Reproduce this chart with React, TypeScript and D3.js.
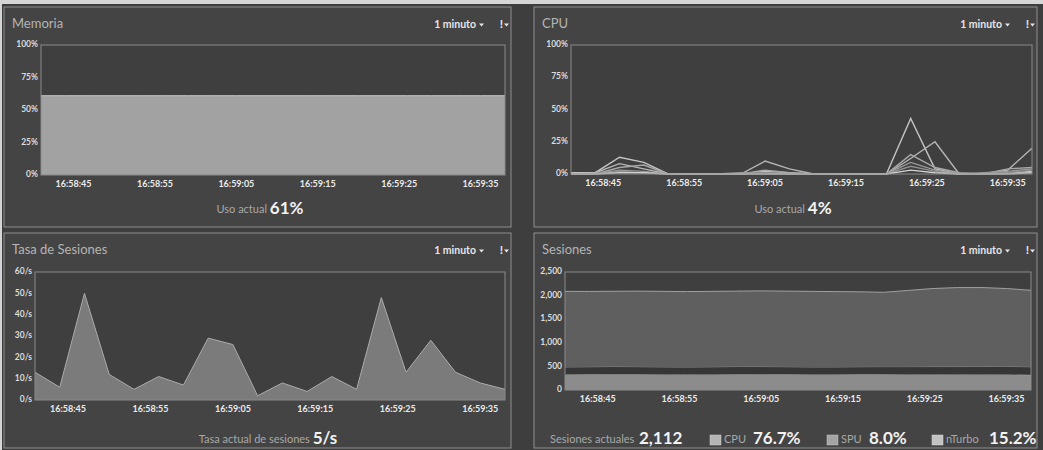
import React from "react";
import * as d3 from "d3";

// ---------- data ----------
const times = [
  "16:58:41", "16:58:44", "16:58:47", "16:58:50", "16:58:53",
  "16:58:56", "16:58:59", "16:59:02", "16:59:05", "16:59:08",
  "16:59:11", "16:59:14", "16:59:17", "16:59:20", "16:59:23",
  "16:59:26", "16:59:29", "16:59:32", "16:59:35", "16:59:38",
];
const xTickLabels = ["16:58:45", "16:58:55", "16:59:05", "16:59:15", "16:59:25", "16:59:35"];

const memoryUsage = [61, 61, 61, 61, 61, 61, 61, 61, 61, 61, 61, 61, 61, 61, 61, 61, 61, 61, 61, 61];

const cpuCore1 = [1, 1, 13, 9, 0, 0, 0, 0, 2, 1, 0, 0, 0, 0, 43, 4, 0, 0, 1, 2];
const cpuCore2 = [0, 1, 8, 4, 0, 0, 0, 0, 10, 4, 0, 0, 0, 0, 12, 25, 0, 0, 3, 20];
const cpuCore3 = [0, 0, 5, 7, 0, 0, 0, 0, 3, 1, 0, 0, 0, 0, 15, 5, 1, 0, 4, 5];
const cpuCore4 = [0, 0, 3, 2, 0, 0, 0, 1, 1, 0, 0, 0, 0, 0, 9, 3, 0, 1, 2, 4];
const cpuCore5 = [0, 0, 2, 1, 0, 0, 0, 0, 1, 0, 0, 0, 0, 0, 6, 2, 0, 0, 1, 3];
const cpuCore6 = [0, 0, 1, 1, 0, 0, 0, 0, 0, 0, 0, 0, 0, 0, 3, 1, 0, 0, 0, 1];
const cpuCores = [cpuCore1, cpuCore2, cpuCore3, cpuCore4, cpuCore5, cpuCore6];

const sessionRate = [13, 6, 50, 12, 5, 11, 7, 29, 26, 2, 8, 4, 11, 5, 48, 13, 28, 13, 8, 5];

const sessNTurbo = [330, 332, 335, 333, 330, 328, 331, 334, 336, 333, 330, 329, 332, 335, 330, 326, 328, 331, 329, 322];
const sessSPU = [158, 160, 162, 161, 159, 158, 160, 163, 161, 160, 158, 159, 161, 160, 165, 170, 168, 166, 170, 170];
const sessCPU = [1602, 1596, 1595, 1601, 1601, 1599, 1599, 1598, 1603, 1602, 1602, 1597, 1587, 1575, 1615, 1654, 1674, 1673, 1651, 1620];

const pctTicks = [0, 25, 50, 75, 100];
const rateTicks = [0, 10, 20, 30, 40, 50, 60];
const sessTicks = [0, 500, 1000, 1500, 2000, 2500];

// ---------- helpers ----------
const W = 1043;
const H = 450;
const FONT = "Lato, 'Open Sans', sans-serif";
const parse = d3.timeParse("%H:%M:%S");
const dates = times.map((t) => parse(t) as Date);
const xTicks = xTickLabels.map((t) => parse(t) as Date);
const fmtTime = d3.timeFormat("%H:%M:%S");

type Box = { x: number; y: number; w: number; h: number };
type Plot = { l: number; t: number; r: number; b: number };

function Dropdowns({ box }: { box: Box }) {
  const right = box.x + box.w;
  const cy = box.y + 18;
  return (
    <g fontFamily={FONT} fill="#e6e6e6" fontWeight={700}>
      <text x={right - 35} y={cy} fontSize={10.5} textAnchor="end" dominantBaseline="middle">
        1 minuto
      </text>
      <path d={`M${right - 32},${cy - 1.5} l5,0 l-2.5,3 z`} fill="#e6e6e6" />
      <text x={right - 8} y={cy} fontSize={12} textAnchor="end" dominantBaseline="middle">
        !
      </text>
      <path d={`M${right - 7},${cy - 1.5} l5,0 l-2.5,3 z`} fill="#e6e6e6" />
    </g>
  );
}

function Frame({
  box,
  plot,
  title,
  y,
  ticks,
  yFmt,
  x,
  children,
}: {
  box: Box;
  plot: Plot;
  title: string;
  y: d3.ScaleLinear<number, number>;
  ticks: number[];
  yFmt: (v: number) => string;
  x: d3.ScaleTime<number, number>;
  children?: React.ReactNode;
}) {
  return (
    <g>
      <rect x={box.x} y={box.y} width={box.w} height={box.h} fill="#444444" stroke="#8e8e8e" strokeWidth={1} />
      <text x={box.x + 8} y={box.y + 18} fontFamily={FONT} fontSize={13} fill="#b4b4b4" dominantBaseline="middle">
        {title}
      </text>
      <Dropdowns box={box} />
      <rect x={plot.l} y={plot.t} width={plot.r - plot.l} height={plot.b - plot.t} fill="#3f3f3f" />
      {children}
      <rect x={plot.l} y={plot.t} width={plot.r - plot.l} height={plot.b - plot.t} fill="none" stroke="#8a8a8a" strokeWidth={1} />
      {ticks.map((t) => (
        <text
          key={t}
          x={plot.l - 3}
          y={y(t)}
          textAnchor="end"
          dominantBaseline="middle"
          fontFamily={FONT}
          fontWeight={700}
          fontSize={8.5}
          fill="#dcdcdc"
        >
          {yFmt(t)}
        </text>
      ))}
      {xTicks.map((d) => (
        <text
          key={+d}
          x={x(d)}
          y={plot.b + 10}
          textAnchor="middle"
          dominantBaseline="middle"
          fontFamily={FONT}
          fontWeight={700}
          fontSize={9}
          fill="#ececec"
        >
          {fmtTime(d)}
        </text>
      ))}
    </g>
  );
}

function Footer({ cx, cy, label, value }: { cx: number; cy: number; label: string; value: string }) {
  return (
    <text x={cx} y={cy} textAnchor="middle" dominantBaseline="middle" fontFamily={FONT}>
      <tspan fontSize={11} fill="#a8a8a8">{label} </tspan>
      <tspan fontSize={17} fontWeight={700} fill="#f2f2f2">{value}</tspan>
    </text>
  );
}

export default function App() {
  const domain = d3.extent(dates) as [Date, Date];

  // Memory
  const memBox: Box = { x: 4, y: 7, w: 507, h: 220 };
  const memPlot: Plot = { l: 41, t: 45, r: 505, b: 175 };
  const memX = d3.scaleTime().domain(domain).range([memPlot.l, memPlot.r]);
  const memY = d3.scaleLinear().domain([0, 100]).range([memPlot.b, memPlot.t]);
  const memArea = d3
    .area<number>()
    .x((_, i) => memX(dates[i]))
    .y0(memY(0))
    .y1((v) => memY(v));
  const memLine = d3
    .line<number>()
    .x((_, i) => memX(dates[i]))
    .y((v) => memY(v));

  // CPU
  const cpuBox: Box = { x: 534, y: 7, w: 503, h: 220 };
  const cpuPlot: Plot = { l: 571, t: 45, r: 1032, b: 174 };
  const cpuX = d3.scaleTime().domain(domain).range([cpuPlot.l, cpuPlot.r]);
  const cpuY = d3.scaleLinear().domain([0, 100]).range([cpuPlot.b, cpuPlot.t]);
  const cpuLine = d3
    .line<number>()
    .x((_, i) => cpuX(dates[i]))
    .y((v) => cpuY(v));
  const cpuColors = ["#c4c4c4", "#b6b6b6", "#a8a8a8", "#9a9a9a", "#8e8e8e", "#d0d0d0"];

  // Session rate
  const rateBox: Box = { x: 4, y: 233, w: 507, h: 215 };
  const ratePlot: Plot = { l: 35, t: 272, r: 505, b: 400 };
  const rateX = d3.scaleTime().domain(domain).range([ratePlot.l, ratePlot.r]);
  const rateY = d3.scaleLinear().domain([0, 60]).range([ratePlot.b, ratePlot.t]);
  const rateArea = d3
    .area<number>()
    .x((_, i) => rateX(dates[i]))
    .y0(rateY(0))
    .y1((v) => rateY(v));
  const rateLine = d3
    .line<number>()
    .x((_, i) => rateX(dates[i]))
    .y((v) => rateY(v));

  // Sessions (stacked)
  const sessBox: Box = { x: 534, y: 233, w: 503, h: 215 };
  const sessPlot: Plot = { l: 565, t: 272, r: 1031, b: 390 };
  const sessX = d3.scaleTime().domain(domain).range([sessPlot.l, sessPlot.r]);
  const sessY = d3.scaleLinear().domain([0, 2500]).range([sessPlot.b, sessPlot.t]);
  const rows = dates.map((d, i) => ({ date: d, nturbo: sessNTurbo[i], spu: sessSPU[i], cpu: sessCPU[i] }));
  const stack = d3.stack<any>().keys(["nturbo", "spu", "cpu"]);
  const layers = stack(rows);
  const sessArea = d3
    .area<any>()
    .x((d) => sessX(d.data.date))
    .y0((d) => sessY(d[0]))
    .y1((d) => sessY(d[1]));
  const sessTop = d3
    .line<any>()
    .x((d) => sessX(d.data.date))
    .y((d) => sessY(d[1]));
  const layerFill: Record<string, string> = { nturbo: "#8c8c8c", spu: "#363636", cpu: "#5f5f5f" };
  const layerStroke: Record<string, string> = { nturbo: "#a6a6a6", spu: "#8a8a8a", cpu: "#a0a0a0" };

  const last = sessionRate.length - 1;
  const totalNow = sessNTurbo[last] + sessSPU[last] + sessCPU[last];
  const pct = (v: number) => d3.format(".1f")((v / totalNow) * 100) + "%";

  return (
    <svg width={W} height={H} style={{ position: "absolute", left: 0, top: 0, display: "block" }}>
      <rect x={0} y={0} width={W} height={H} fill="#d6d6d6" />
      <rect x={2} y={4} width={W - 2} height={H - 4} fill="#3e3e3e" />

      {/* Memoria */}
      <Frame box={memBox} plot={memPlot} title="Memoria" y={memY} ticks={pctTicks} yFmt={(v) => `${v}%`} x={memX}>
        <path d={memArea(memoryUsage) || ""} fill="#a2a2a2" />
        <path d={memLine(memoryUsage) || ""} fill="none" stroke="#c4c4c4" strokeWidth={1} />
      </Frame>
      <Footer cx={260} cy={210} label="Uso actual" value={`${memoryUsage[memoryUsage.length - 1]}%`} />

      {/* CPU */}
      <Frame box={cpuBox} plot={cpuPlot} title="CPU" y={cpuY} ticks={pctTicks} yFmt={(v) => `${v}%`} x={cpuX}>
        {cpuCores.map((c, k) => (
          <path key={k} d={cpuLine(c) || ""} fill="none" stroke={cpuColors[k]} strokeWidth={1.4} />
        ))}
      </Frame>
      <Footer cx={793} cy={210} label="Uso actual" value="4%" />

      {/* Tasa de Sesiones */}
      <Frame box={rateBox} plot={ratePlot} title="Tasa de Sesiones" y={rateY} ticks={rateTicks} yFmt={(v) => `${v}/s`} x={rateX}>
        <path d={rateArea(sessionRate) || ""} fill="#7b7b7b" />
        <path d={rateLine(sessionRate) || ""} fill="none" stroke="#ababab" strokeWidth={1} />
      </Frame>
      <Footer cx={268} cy={440} label="Tasa actual de sesiones" value={`${sessionRate[last]}/s`} />

      {/* Sesiones */}
      <Frame box={sessBox} plot={sessPlot} title="Sesiones" y={sessY} ticks={sessTicks} yFmt={d3.format(",")} x={sessX}>
        {layers.map((L) => (
          <g key={L.key}>
            <path d={sessArea(L) || ""} fill={layerFill[L.key]} />
            <path d={sessTop(L) || ""} fill="none" stroke={layerStroke[L.key]} strokeWidth={1} />
          </g>
        ))}
      </Frame>
      <g fontFamily={FONT} dominantBaseline="middle">
        <text x={550} y={440} fontSize={11} fill="#a8a8a8">Sesiones actuales</text>
        <text x={639} y={440} fontSize={17} fontWeight={700} fill="#f2f2f2">{d3.format(",")(totalNow)}</text>

        <rect x={710} y={435} width={11} height={10} fill="#b4b4b4" stroke="#d0d0d0" strokeWidth={0.5} />
        <text x={724} y={440} fontSize={11} fill="#a8a8a8">CPU</text>
        <text x={753} y={440} fontSize={17} fontWeight={700} fill="#f2f2f2">{pct(sessCPU[last])}</text>

        <rect x={827} y={435} width={11} height={10} fill="#a4a4a4" stroke="#c8c8c8" strokeWidth={0.5} />
        <text x={841} y={440} fontSize={11} fill="#a8a8a8">SPU</text>
        <text x={869} y={440} fontSize={17} fontWeight={700} fill="#f2f2f2">{pct(sessSPU[last])}</text>

        <rect x={932} y={435} width={11} height={10} fill="#c2c2c2" stroke="#d8d8d8" strokeWidth={0.5} />
        <text x={946} y={440} fontSize={11} fill="#a8a8a8">nTurbo</text>
        <text x={989} y={440} fontSize={17} fontWeight={700} fill="#f2f2f2">{pct(sessNTurbo[last])}</text>
      </g>
    </svg>
  );
}
